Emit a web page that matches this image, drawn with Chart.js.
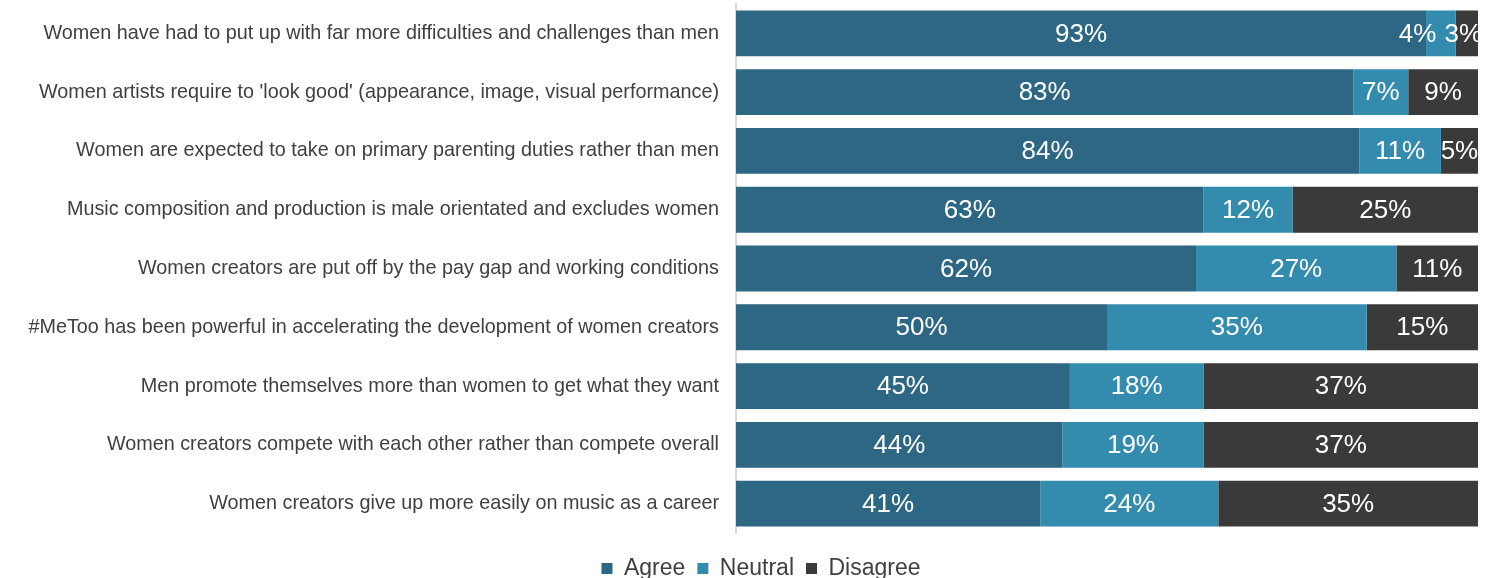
<!DOCTYPE html>
<html>
<head>
<meta charset="utf-8">
<script src="https://cdn.jsdelivr.net/npm/chart.js@4"></script>
<style>
  html, body { margin: 0; padding: 0; background: #fff; }
  #wrap { width: 1504px; height: 578px; }
</style>
</head>
<body>
<div id="wrap"><canvas id="myChart"></canvas></div>
<script>
var CATEGORIES = [
  'Women have had to put up with far more difficulties and challenges than men',
  "Women artists require to 'look good' (appearance, image, visual performance)",
  'Women are expected to take on primary parenting duties rather than men',
  'Music composition and production is male orientated and excludes women',
  'Women creators are put off by the pay gap and working conditions',
  '#MeToo has been powerful in accelerating the development of women creators',
  'Men promote themselves more than women to get what they want',
  'Women creators compete with each other rather than compete overall',
  'Women creators give up more easily on music as a career'
];
// shares as drawn (row 2 is not a whole-number split)
var AGREE    = [93, 83.2, 84, 63, 62, 50, 45, 44, 41];
var NEUTRAL  = [4, 7.4, 11, 12, 27, 35, 18, 19, 24];
var DISAGREE = [3, 9.4, 5, 25, 11, 15, 37, 37, 35];

var COLORS = ['#2d6783', '#338bad', '#3a3a3a'];
var FONT = '"Liberation Sans", Arial, sans-serif';

// white percentage labels in each segment, pushed left when they would collide
var barLabels = {
  id: 'barLabels',
  afterDatasetsDraw: function(chart) {
    var ctx = chart.ctx;
    var right = chart.chartArea.right;
    ctx.save();
    ctx.font = '26px ' + FONT;
    ctx.fillStyle = '#ffffff';
    ctx.textAlign = 'center';
    ctx.textBaseline = 'middle';
    var n = chart.data.labels.length;
    for (var j = 0; j < n; j++) {
      var items = [];
      chart.data.datasets.forEach(function(ds, i) {
        var bar = chart.getDatasetMeta(i).data[j];
        var txt = Math.round(ds.data[j]) + '%';
        items.push({ txt: txt, x: (bar.x + bar.base) / 2, y: bar.y, w: ctx.measureText(txt).width });
      });
      // last label must not run past the plot edge by much
      var last = items[items.length - 1];
      if (last.x + last.w / 2 > right + 4) last.x = right + 4 - last.w / 2;
      for (var k = items.length - 2; k >= 0; k--) {
        var nx = items[k + 1];
        var lim = nx.x - nx.w / 2 - 8;
        if (items[k].x + items[k].w / 2 > lim) items[k].x = lim - items[k].w / 2;
      }
      items.forEach(function(it) { ctx.fillText(it.txt, it.x, it.y + 1); });
    }
    ctx.restore();
  }
};

// nudge the legend down and a bit to the right, as in the original
var legendShift = {
  id: 'legendShift',
  afterLayout: function(chart) {
    if (chart.legend) {
      chart.legend.top += 12;
      chart.legend.bottom += 12;
      chart.legend.left += 22;
      chart.legend.right += 22;
    }
  }
};

var ctx = document.getElementById('myChart');
var myChart = new Chart(ctx, {
  type: 'bar',
  data: {
    labels: CATEGORIES,
    datasets: [
      { label: 'Agree', data: AGREE, backgroundColor: COLORS[0] },
      { label: 'Neutral', data: NEUTRAL, backgroundColor: COLORS[1] },
      { label: 'Disagree', data: DISAGREE, backgroundColor: COLORS[2] }
    ]
  },
  options: {
    indexAxis: 'y',
    responsive: true,
    maintainAspectRatio: false,
    animation: false,
    layout: { padding: { left: 0, right: 26, top: 4, bottom: 0 } },
    datasets: {
      bar: { barPercentage: 0.78, categoryPercentage: 1.0 }
    },
    scales: {
      x: {
        stacked: true,
        min: 0,
        max: 100,
        display: false
      },
      y: {
        stacked: true,
        grid: { display: false, drawTicks: true, tickLength: 17 },
        border: { display: true, color: '#d9d9d9', width: 2 },
        ticks: {
          color: '#404040',
          padding: 0,
          font: { family: FONT, size: 19.8 }
        },
        afterFit: function(scale) {
          scale.width = 736;
          scale.paddingTop = 0;
          scale.paddingBottom = 0;
        }
      }
    },
    plugins: {
      legend: {
        position: 'bottom',
        labels: {
          color: '#404040',
          boxWidth: 11,
          boxHeight: 11,
          padding: 12,
          font: { family: FONT, size: 23 }
        }
      },
      tooltip: { enabled: false }
    }
  },
  plugins: [barLabels, legendShift]
});
</script>
</body>
</html>
